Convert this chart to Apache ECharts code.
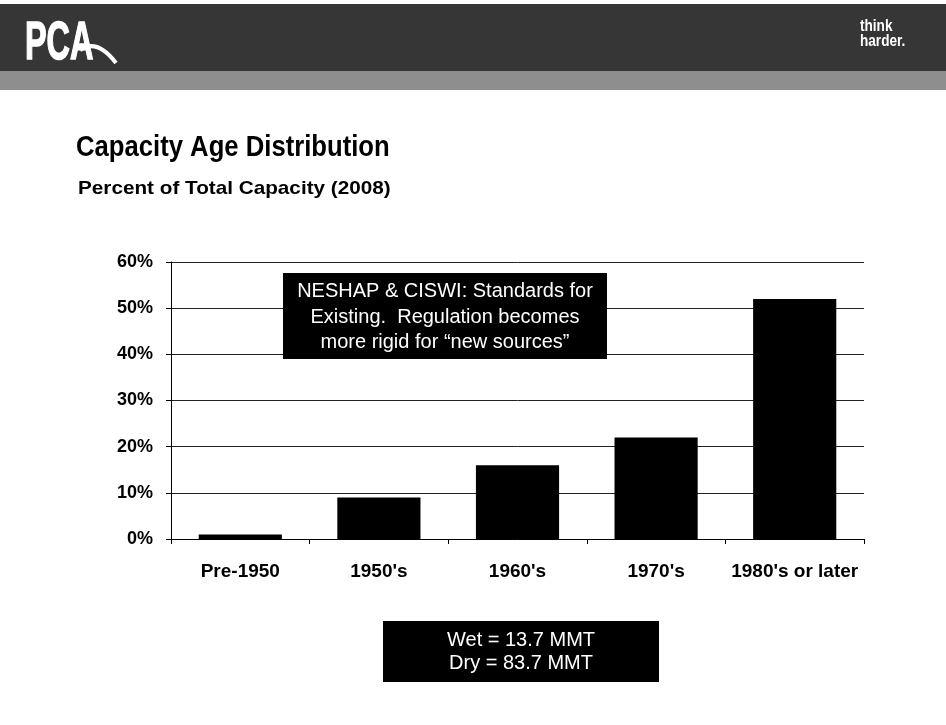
<!DOCTYPE html>
<html>
<head>
<meta charset="utf-8">
<script src="https://cdn.jsdelivr.net/npm/echarts@6/dist/echarts.min.js"></script>
<style>
html,body{margin:0;padding:0;background:#fff;}
#chart{width:946px;height:725px;}
</style>
</head>
<body>
<div id="chart"></div>
<script>
var categories = ["Pre-1950", "1950's", "1960's", "1970's", "1980's or later"];
var capacityShare = [1, 9, 16, 22, 52];
var yTicks = { min: 0, max: 60, interval: 10 };
var titleText = "Capacity Age Distribution";
var subtitleText = "Percent of Total Capacity (2008)";
var noteTop = "NESHAP & CISWI: Standards for\nExisting.  Regulation becomes\nmore rigid for \u201cnew sources\u201d";
var noteBottom = "Wet = 13.7 MMT\nDry = 83.7 MMT";

var FONT = "'Liberation Sans', Arial, Helvetica, sans-serif";
var chart = echarts.init(document.getElementById('chart'), null, { renderer: 'canvas' });

function txt(x, y, text, font, opts) {
  opts = opts || {};
  return {
    type: 'text', x: x, y: y, z: 100,
    scaleX: opts.scaleX || 1,
    style: {
      text: text, x: 0, y: 0, font: font, fill: opts.fill || '#000',
      textAlign: opts.align || 'left', align: opts.align || 'left',
      textVerticalAlign: 'middle', verticalAlign: 'middle',
      lineHeight: opts.lineHeight,
      stroke: opts.stroke, lineWidth: opts.strokeWidth
    }
  };
}

var option = {
  backgroundColor: '#ffffff',
  animation: false,
  grid: { left: 171, right: 82, top: 262, bottom: 186, containLabel: false },
  xAxis: {
    type: 'category',
    data: categories,
    axisLine: { show: true, lineStyle: { color: '#000', width: 1 } },
    axisTick: { show: true, length: 5, interval: 0, alignWithLabel: false, lineStyle: { color: '#000' } },
    axisLabel: { interval: 0, margin: 23, color: '#000', fontFamily: FONT, fontWeight: 'bold', fontSize: 19 },
    splitLine: { show: false }
  },
  yAxis: {
    type: 'value',
    min: yTicks.min, max: yTicks.max, interval: yTicks.interval,
    axisLine: { show: true, lineStyle: { color: '#000', width: 1 } },
    axisTick: { show: true, length: 5, lineStyle: { color: '#000' } },
    axisLabel: { formatter: '{value}%', margin: 18, color: '#000', fontFamily: FONT, fontWeight: 'bold', fontSize: 18 },
    splitLine: { show: true, lineStyle: { color: '#222', width: 1 } }
  },
  series: [{
    type: 'bar',
    data: capacityShare,
    barWidth: '60%',
    itemStyle: { color: '#000' },
    z: 3
  }],
  graphic: [
    { type: 'rect', shape: { x: 0, y: 4, width: 946, height: 67 }, style: { fill: '#363636' }, z: 90 },
    { type: 'rect', shape: { x: 0, y: 71, width: 946, height: 19 }, style: { fill: '#8e8e8e' }, z: 90 },
    txt(25, 44, 'PCA', 'bold 54px ' + FONT, { fill: '#fff', scaleX: 0.6, stroke: '#fff', strokeWidth: 1.5 }),
    { type: 'bezierCurve', z: 100, shape: { x1: 80, y1: 50, cpx1: 97, cpy1: 38, x2: 116, y2: 63 },
      style: { stroke: '#fff', lineWidth: 4, fill: null } },
    txt(860, 34, 'think\nharder.', 'bold 16px ' + FONT, { fill: '#fff', scaleX: 0.85, lineHeight: 15 }),
    txt(76, 148, titleText, 'bold 29px ' + FONT, { scaleX: 0.885 }),
    txt(78, 189, subtitleText, 'bold 19px ' + FONT, { scaleX: 1.09 }),
    { type: 'rect', z: 100, shape: { x: 283, y: 273, width: 324, height: 86 }, style: { fill: '#000' } },
    txt(445, 317, noteTop, '20px ' + FONT, { fill: '#fff', align: 'center', lineHeight: 25.5 }),
    { type: 'rect', z: 100, shape: { x: 383, y: 621, width: 276, height: 61 }, style: { fill: '#000' } },
    txt(521, 651.5, noteBottom, '20px ' + FONT, { fill: '#fff', align: 'center', lineHeight: 23 })
  ]
};
chart.setOption(option);
</script>
</body>
</html>
